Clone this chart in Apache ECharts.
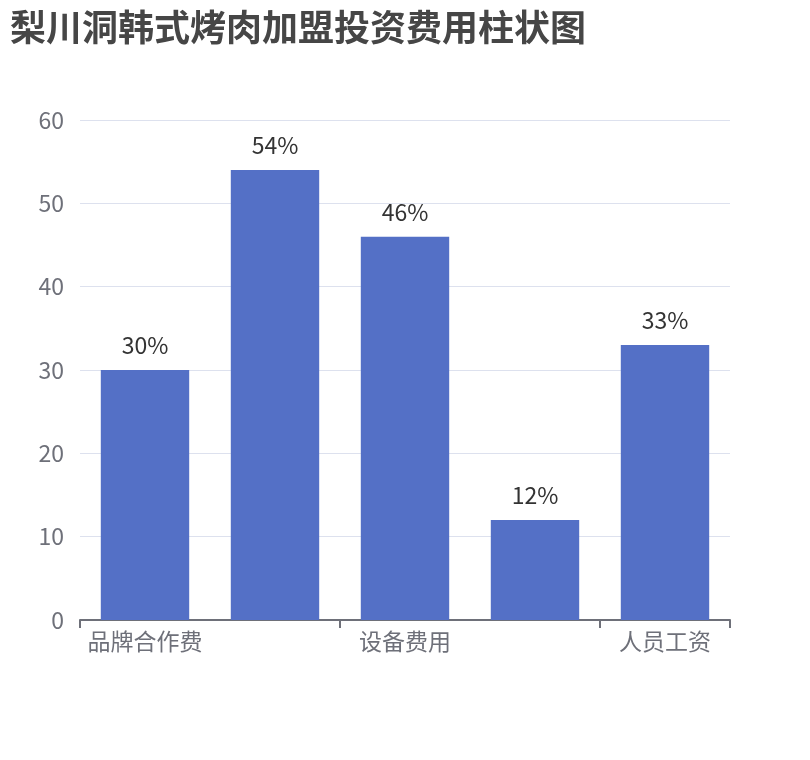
<!DOCTYPE html>
<html><head><meta charset="utf-8">
<script src="https://cdn.jsdelivr.net/npm/echarts@6/dist/echarts.min.js"></script>
<style>html,body{margin:0;padding:0;background:#fff}#c{width:810px;height:760px}</style>
</head><body><div id="c"></div>
<script>
const titleText = '梨川洞韩式烤肉加盟投资费用柱状图';
const categories = ['品牌合作费', '加盟费', '设备费用', '装修费用', '人员工资'];
const values = [30, 54, 46, 12, 33];
const yTicks = { min: 0, max: 60, interval: 10 };
const FONT = '"Noto Sans CJK SC", "Noto Sans", sans-serif';
const chart = echarts.init(document.getElementById('c'));
chart.setOption({
  textStyle: { fontFamily: FONT },
  title: { text: titleText, left: 5, top: 4, textStyle: { fontSize: 36, fontWeight: 'bold', color: '#464646', fontFamily: FONT } },
  grid: { left: 80, right: 80, top: 120, bottom: 140, containLabel: false },
  xAxis: {
    type: 'category', data: categories,
    axisLine: { show: true, lineStyle: { color: '#6e7079', width: 2 } },
    axisTick: { show: true, length: 8, interval: 1, lineStyle: { color: '#6e7079', width: 2 } },
    axisLabel: { interval: 1, fontSize: 23, color: '#6e7079', margin: 10, fontFamily: FONT }
  },
  yAxis: {
    type: 'value', min: yTicks.min, max: yTicks.max, interval: yTicks.interval,
    axisLabel: { fontSize: 23, color: '#6e7079', margin: 16, fontFamily: FONT },
    splitLine: { lineStyle: { color: '#DDE1EE' } }
  },
  series: [{
    type: 'bar', data: values, barWidth: '68%',
    itemStyle: { color: '#5470c6' },
    label: { show: true, position: 'top', formatter: '{c}%', fontSize: 23, color: '#333', distance: 13, fontFamily: FONT }
  }]
});
</script></body></html>
